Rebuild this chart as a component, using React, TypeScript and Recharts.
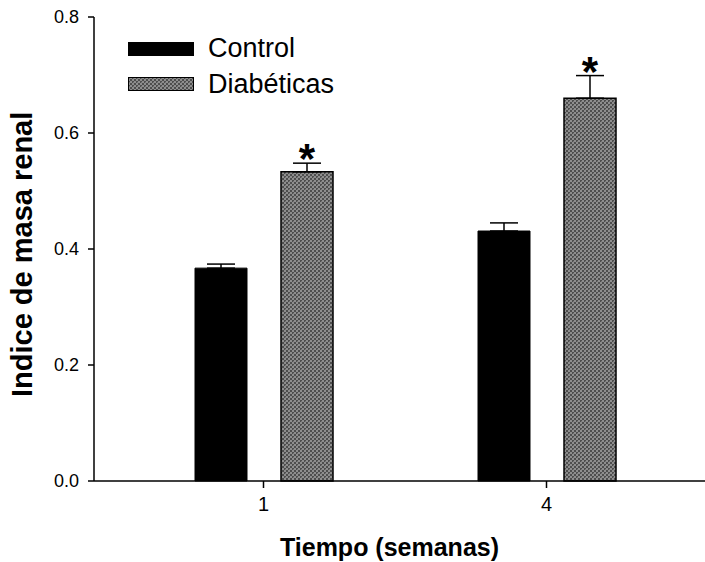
import React from 'react';
import { BarChart, Bar, XAxis, YAxis, ErrorBar, LabelList, Legend } from 'recharts';

const weeks = ['1', '4'];
const control = [0.367, 0.431];
const controlErr = [0.007, 0.014];
const diab = [0.533, 0.66];
const diabErr = [0.015, 0.039];
const signif = ['*', '*'];
const yTicks = [0, 0.2, 0.4, 0.6, 0.8];
const seriesNames = ['Control', 'Diabéticas'];

const data = weeks.map((w, i) => ({
  week: w,
  control: control[i],
  controlErr: [0, controlErr[i]],
  diab: diab[i],
  diabErr: [0, diabErr[i]],
}));

const FONT = '"Liberation Sans", Arial, sans-serif';

const StarLabel = (props: any) => {
  const { x, y, width, height, value, index } = props;
  const pxPerUnit = height / value;
  const capY = y - diabErr[index] * pxPerUnit;
  return (
    <text
      x={x + width / 2}
      y={capY + 10}
      textAnchor="middle"
      fontFamily={FONT}
      fontWeight="bold"
      fontSize={42}
      fill="#000"
    >
      {signif[index]}
    </text>
  );
};

const YTick = (props: any) => {
  const { x, y, payload } = props;
  return (
    <text x={x} y={y} dy="0.355em" textAnchor="end" fontFamily={FONT} fontSize={18} fill="#000">
      {Number(payload.value).toFixed(1)}
    </text>
  );
};

const XTick = (props: any) => {
  const { x, y, payload } = props;
  return (
    <text x={x} y={y} dy="0.71em" textAnchor="middle" fontFamily={FONT} fontSize={20} fill="#000">
      {payload.value}
    </text>
  );
};

const LegendContent = () => (
  <div style={{ fontFamily: FONT, fontSize: 27, color: '#000' }}>
    {seriesNames.map((n, i) => (
      <div key={n} style={{ display: 'flex', alignItems: 'center', height: 35.5 }}>
        <svg width={66} height={14} style={{ marginRight: 14 }}>
          <rect
            x={0.5}
            y={0.5}
            width={65}
            height={13}
            fill={i === 0 ? '#000' : 'url(#diabPattern)'}
            stroke="#000"
            strokeWidth={1}
          />
        </svg>
        <span>{n}</span>
      </div>
    ))}
  </div>
);

export default function App() {
  return (
    <div style={{ position: 'absolute', left: 0, top: 0, width: 705, height: 562, background: '#fff' }}>
      <svg width={0} height={0} style={{ position: 'absolute' }}>
        <defs>
          <pattern id="diabPattern" width={4} height={4} patternUnits="userSpaceOnUse">
            <rect x={0} y={0} width={4} height={4} fill="#8e8e8e" />
            <rect x={0} y={0} width={2} height={2} fill="#4e4e4e" />
            <rect x={2} y={2} width={2} height={2} fill="#4e4e4e" />
            <rect x={1} y={1} width={1} height={1} fill="#777" />
          </pattern>
        </defs>
      </svg>
      <BarChart
        width={705}
        height={562}
        data={data}
        margin={{ top: 17, right: 0, bottom: 0, left: 0 }}
        barSize={52}
        barGap={34}
      >
        <XAxis
          dataKey="week"
          height={81}
          padding={{ left: 28, right: 17 }}
          axisLine={{ stroke: '#000', strokeWidth: 1.5 }}
          tickLine={{ stroke: '#000', strokeWidth: 1.5 }}
          tickSize={7}
          tickMargin={9}
          tick={XTick}
          label={{
            value: 'Tiempo (semanas)',
            position: 'insideBottom',
            offset: 6,
            dx: -10,
            fill: '#000',
            fontSize: 25,
            fontWeight: 'bold',
            fontFamily: FONT,
          }}
        />
        <YAxis
          width={94}
          domain={[0, 0.8]}
          ticks={yTicks}
          axisLine={{ stroke: '#000', strokeWidth: 1.5 }}
          tickLine={{ stroke: '#000', strokeWidth: 1.5 }}
          tickSize={6}
          tickMargin={9}
          tick={YTick}
          label={{
            value: 'Indice de masa renal',
            angle: -90,
            position: 'insideLeft',
            offset: 22,
            dy: 148,
            fill: '#000',
            fontSize: 29,
            fontWeight: 'bold',
            fontFamily: FONT,
          }}
        />
        <Legend
          layout="vertical"
          align="center"
          verticalAlign="middle"
          content={LegendContent}
          wrapperStyle={{ position: 'absolute', left: 128, top: 31, width: 300 }}
        />
        <Bar dataKey="control" name="Control" fill="#000" stroke="#000" strokeWidth={1} isAnimationActive={false}>
          <ErrorBar dataKey="controlErr" direction="y" width={14} stroke="#000" strokeWidth={1.5} />
        </Bar>
        <Bar dataKey="diab" name="Diabéticas" fill="url(#diabPattern)" stroke="#000" strokeWidth={1.5} isAnimationActive={false}>
          <ErrorBar dataKey="diabErr" direction="y" width={14} stroke="#000" strokeWidth={1.5} />
          <LabelList dataKey="diab" content={StarLabel} />
        </Bar>
      </BarChart>
    </div>
  );
}
